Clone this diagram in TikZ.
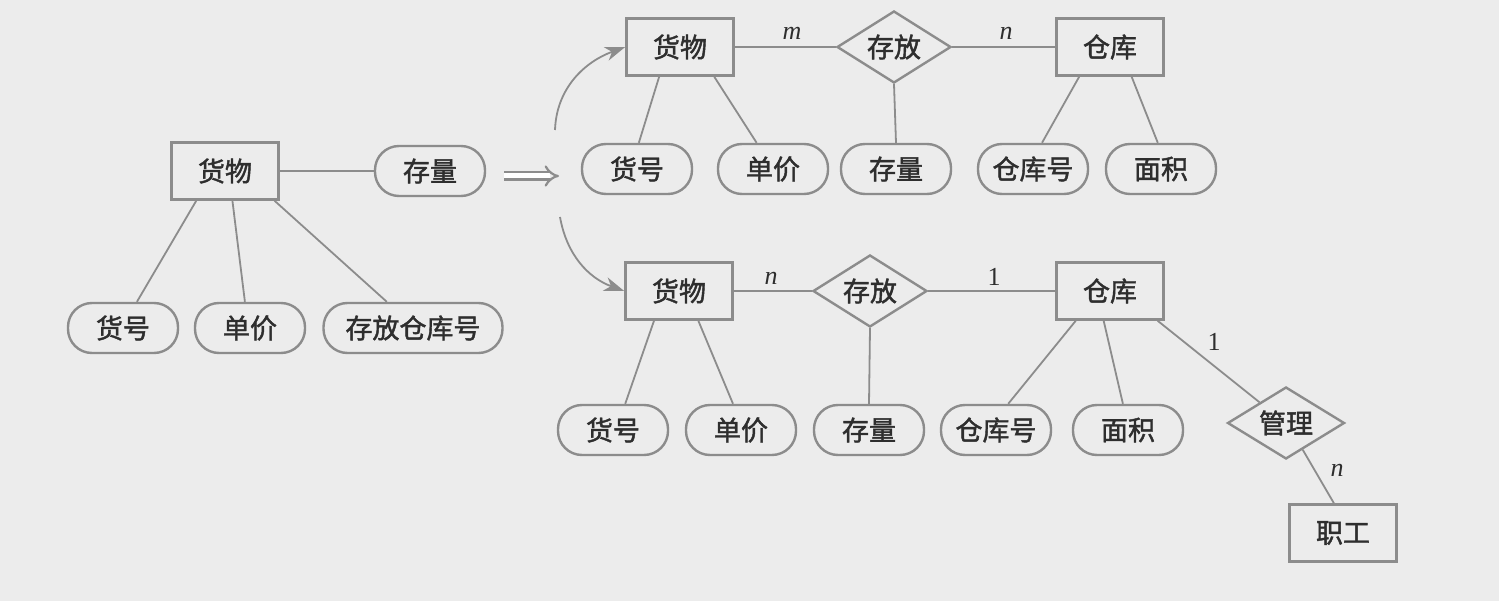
\documentclass[tikz,border=0pt]{standalone}
\usepackage{fontspec}
\newfontfamily\cjk[FakeBold=1.6]{Noto Sans CJK SC}
\newfontfamily\lbl{Liberation Serif}
\usetikzlibrary{shapes.geometric,arrows.meta}
\definecolor{paper}{HTML}{ECECEC}
\definecolor{ink}{HTML}{2E2E2E}
\definecolor{rule}{HTML}{8C8C8C}
\tikzset{
  entity/.style={draw=rule, line width=2.6pt, fill=paper, minimum width=107pt, minimum height=57pt,
    inner sep=0pt, font=\cjk\fontsize{27}{30}\selectfont, text=ink},
  attr/.style={draw=rule, line width=2.4pt, fill=paper, rounded corners=24pt, minimum width=110pt,
    minimum height=50pt, inner sep=0pt, font=\cjk\fontsize{27}{30}\selectfont, text=ink},
  relation/.style={draw=rule, line width=2.4pt, fill=paper, diamond, aspect=1.58, minimum width=114pt,
    minimum height=72pt, inner sep=0pt, font=\cjk\fontsize{27}{30}\selectfont, text=ink},
  link/.style={draw=rule, line width=1.8pt},
  card/.style={font=\lbl\fontsize{26}{28}\selectfont, text=ink, inner sep=0pt},
  curvearrow/.style={draw=rule, line width=1.8pt, -{Stealth[length=20pt,width=14pt,inset=6pt]}},
}
\begin{document}
\begin{tikzpicture}[x=1pt,y=-1pt]
\useasboundingbox (0,0) rectangle (1499,601);
\fill[paper] (0,0) rectangle (1499,601);

% ---- goods entity with the stock attribute
\node[entity] (g0) at (225,171) {货物};
\node[attr] (g0stock) at (430,171) {存量};
\node[attr] (g0no) at (123,328) {货号};
\node[attr] (g0price) at (250,328) {单价};
\node[attr, minimum width=179pt] (g0wh) at (413,328) {存放仓库号};
\draw[link] (g0.east) -- (g0stock.west);
\draw[link] (g0.226) -- (g0no.62);
\draw[link] (g0.284) -- (g0price.101);
\draw[link] (g0.-31) -- (g0wh.135);

% ---- double arrow
\coordinate (tfrom) at (504,176);
\coordinate (tto) at (559,176);
\draw[draw=rule, line width=2.2pt, double distance=5pt, -{Implies[length=13pt]}] (tfrom) -- (tto);

% ---- m:n model
\node[entity] (tg) at (680,47) {货物};
\node[relation] (tr) at (894,47) {存放};
\node[entity] (tw) at (1110,47) {仓库};
\node[attr] (tno) at (637,169) {货号};
\node[attr] (tprice) at (773,169) {单价};
\node[attr] (tstock) at (896,169) {存量};
\node[attr] (twno) at (1033,169) {仓库号};
\node[attr] (tarea) at (1161,169) {面积};
\draw[link] (tg.east) -- (tr.west);
\draw[link] (tr.east) -- (tw.west);
\draw[link] (tr.south) -- (tstock.north);
\draw[link] (tg.235) -- (tno.86);
\draw[link] (tg.319) -- (tprice.122);
\draw[link] (tw.224) -- (twno.71);
\draw[link] (tw.306) -- (tarea.97);
\node[card] (tm) at (792,33) {\itshape m};
\node[card] (tn) at (1006,33) {\itshape n};

% ---- 1:n model with staff
\node[entity] (bg) at (679,291) {货物};
\node[relation] (br) at (870,291) {存放};
\node[entity] (bw) at (1110,291) {仓库};
\node[attr] (bno) at (613,430) {货号};
\node[attr] (bprice) at (741,430) {单价};
\node[attr] (bstock) at (869,430) {存量};
\node[attr] (bwno) at (996,430) {仓库号};
\node[attr] (barea) at (1128,430) {面积};
\node[relation, minimum width=117pt] (bm) at (1286,423) {管理};
\node[entity] (bs) at (1343,533) {职工};
\draw[link] (bg.east) -- (br.west);
\draw[link] (br.east) -- (bw.west);
\draw[link] (br.south) -- (bstock.north);
\draw[link] (bg.230) -- (bno.65);
\draw[link] (bg.303) -- (bprice.107);
\draw[link] (bw.221) -- (bwno.65);
\draw[link] (bw.258) -- (barea.101);
\draw[link] (bw.-32) -- (bm.142);
\draw[link] (bm.-58) -- (bs.107);
\node[card] (bn) at (771,278) {\itshape n};
\node[card] (b1) at (994,277) {1};
\node[card] (b1m) at (1214,342) {1};
\node[card] (bnm) at (1337,470) {\itshape n};

% ---- curved arrows into both models
\coordinate (up0) at (555,130);
\coordinate (dn0) at (560,217);
\draw[curvearrow] (up0) to[out=88, in=200] (tg.west);
\draw[curvearrow] (dn0) to[out=-80, in=160] (bg.west);
\end{tikzpicture}
\end{document}
